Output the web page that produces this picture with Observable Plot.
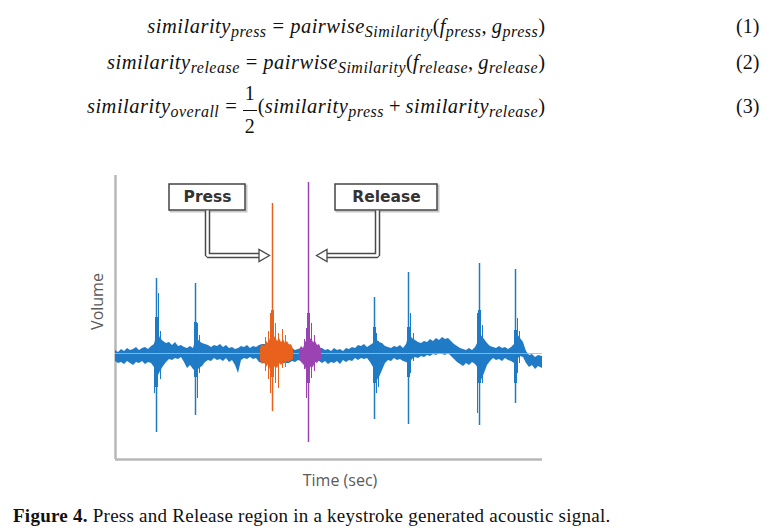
<!DOCTYPE html>
<html>
<head>
<meta charset="utf-8">
<script src="https://cdn.jsdelivr.net/npm/d3@7"></script>
<script src="https://cdn.jsdelivr.net/npm/@observablehq/plot@0.6"></script>
<style>
  html, body { margin: 0; padding: 0; background: #fff; }
  #page { position: relative; width: 779px; height: 528px; overflow: hidden; background: #fff; }
  .eq { position: absolute; left: 0; width: 779px; height: 30px; line-height: 30px;
        font-family: "Liberation Serif", "Times New Roman", serif; font-size: 20.5px; color: #111; white-space: nowrap; }
  .eq i { font-style: italic; letter-spacing: 0.5px; }
  .eq sub { font-size: 0.78em; vertical-align: -0.28em; line-height: 0; }
  .body { position: absolute; right: 234px; }
  .eqs { margin: 0 6px; }
  .plus { margin: 0 5px; }
  .num { position: absolute; left: 736px; font-size: 20px; }
  .frac { display: inline-flex; flex-direction: column; align-items: center; vertical-align: middle;
          font-size: 20px; margin: -22px 1px -22px 0; position: relative; top: 1px; }
  .frac span { display: block; line-height: 18px; }
  .frac .n { padding-bottom: 8px; }
  .frac .bar { border-top: 1.2px solid #111; padding: 6px 2px 0 2px; }
  #chart { position: absolute; left: 0; top: 150px; }
  #caption { position: absolute; left: 13px; top: 505px; font-family: "Liberation Serif", "Times New Roman", serif;
             font-size: 19px; letter-spacing: 0.25px; color: #111; white-space: nowrap; }
</style>
</head>
<body>
<div id="page">
  <div class="eq" style="top:11px">
    <span class="body"><i>similarity</i><sub><i>press</i></sub><span class="eqs">=</span><i>pairwise</i><sub><i>Similarity</i></sub>(<i>f</i><sub><i>press</i></sub>, <i>g</i><sub><i>press</i></sub>)</span>
    <span class="num">(1)</span>
  </div>
  <div class="eq" style="top:47px">
    <span class="body"><i>similarity</i><sub><i>release</i></sub><span class="eqs">=</span><i>pairwise</i><sub><i>Similarity</i></sub>(<i>f</i><sub><i>release</i></sub>, <i>g</i><sub><i>release</i></sub>)</span>
    <span class="num">(2)</span>
  </div>
  <div class="eq" style="top:91px">
    <span class="body"><i>similarity</i><sub><i>overall</i></sub><span class="eqs">=</span><span class="frac"><span class="n">1</span><span class="bar">2</span></span>(<i>similarity</i><sub><i>press</i></sub><span class="plus">+</span><i>similarity</i><sub><i>release</i></sub>)</span>
    <span class="num">(3)</span>
  </div>
  <div id="chart"></div>
  <div id="caption"><b>Figure 4.</b> Press and Release region in a keystroke generated acoustic signal.</div>
</div>
<script>
// ---------- data (time and volume in arbitrary units; 0 = silence) ----------
const timeDomain = [0, 427];
const volumeDomain = [-106, 178];

// background noise envelope over the whole recording
const noiseTime = [0, 3, 6, 9, 12, 15, 18, 21, 24, 27, 30, 33, 36, 39, 42, 45, 48, 51, 54, 57, 60, 63, 66, 69, 72, 75, 78,
  81, 84, 87, 90, 93, 96, 99, 102, 105, 108, 111, 114, 117, 120, 123, 126, 129, 132, 135, 138, 141, 144, 147, 150, 153,
  156, 159, 162, 165, 168, 171, 174, 177, 180, 183, 186, 189, 192, 195, 198, 201, 204, 207, 210, 213, 216, 219, 222, 225,
  228, 231, 234, 237, 240, 243, 246, 249, 252, 255, 258, 261, 264, 267, 270, 273, 276, 279, 282, 285, 288, 291, 294, 297,
  300, 303, 306, 309, 312, 315, 318, 321, 324, 327, 330, 333, 336, 339, 342, 345, 348, 351, 354, 357, 360, 363, 366, 369,
  372, 375, 378, 381, 384, 387, 390, 393, 396, 399, 402, 405, 408, 411, 414, 417, 420, 423, 427];
const noiseHigh = [3, 1, 4, 2, 5, 3, 4, 6, 3, 5, 6, 4, 7, 9, 22, 15, 12, 10, 11, 8, 11, 7, 8, 6, 5, 7, 5,
  17, 12, 10, 9, 8, 6, 8, 7, 9, 6, 8, 5, 6, 4, 5, 7, 6, 8, 5, 7, 6, 8, 9, 9, 10,
  10, 10, 10, 10, 10, 10, 9, 5, 3, 4, 5, 5, 5, 5, 5, 5, 5, 5, 3, 4, 2, 5, 3, 4,
  2, 5, 4, 6, 5, 8, 7, 9, 6, 8, 10, 14, 11, 10, 7, 6, 5, 7, 6, 8, 5, 9, 20, 15,
  13, 11, 10, 12, 11, 14, 12, 15, 13, 16, 14, 15, 12, 9, 7, 5, 4, 3, 5, 3, 6, 12, 18, 14,
  10, 7, 6, 5, 7, 5, 6, 4, 6, 9, 19, 15, 11, 2, -2, -1, -4, -2, -3];
const noiseLow = [-8, -10, -9, -11, -8, -10, -12, -9, -10, -8, -11, -9, -10, -14, -24, -18, -13, -9, -6, -7, -5, -6, -4, -9, -15, -12, -16,
  -19, -15, -13, -9, -7, -8, -5, -7, -6, -8, -5, -9, -7, -12, -20, -7, -5, -6, -4, -6, -5, -9, -10, -10, -10,
  -10, -10, -10, -10, -10, -10, -10, -8, -9, -7, -8, -8, -8, -8, -8, -8, -8, -10, -8, -11, -9, -10, -8, -11,
  -7, -9, -7, -8, -5, -7, -5, -6, -5, -9, -14, -28, -24, -17, -10, -7, -8, -5, -7, -6, -8, -9, -10, -6,
  -4, -5, -3, -4, -2, -3, -1, -2, 0, -1, -2, 0, -3, -6, -9, -11, -13, -10, -12, -9, -11, -15, -27, -20,
  -12, -8, -5, -7, -6, -8, -5, -7, -8, -10, -6, -3, -4, -10, -14, -12, -16, -13, -15];

// key press region envelope
const pressTime = [145, 147, 149, 151, 153, 155, 156, 157, 158, 160, 162, 164, 166, 168, 170, 172, 174, 176, 178];
const pressHigh = [5, 9, 7, 12, 10, 15, 12, 19, 14, 17, 12, 15, 11, 14, 10, 12, 8, 9, 4];
const pressLow = [-7, -11, -9, -14, -11, -17, -14, -22, -16, -13, -15, -10, -12, -9, -10, -8, -9, -7, -6];

// key release region envelope
const releaseTime = [184, 186, 188, 190, 192, 193, 194, 196, 198, 200, 202, 204, 206];
const releaseHigh = [3, 7, 5, 11, 14, 18, 13, 15, 11, 12, 8, 9, 4];
const releaseLow = [-6, -9, -11, -14, -20, -22, -17, -13, -14, -9, -10, -7, -6];

// keystroke spikes
const spikeTime = [41, 80, 157, 193, 259, 293, 364, 400];
const spikeRegion = ["other", "other", "press", "release", "other", "other", "other", "other"];
const spikeTop = [75, 70, 150, 171, 56, 81, 90, 84];
const spikeBottom = [-79, -62, -58, -89, -66, -71, -72, -50];
const burstTop = [36, 31, 43, 40, 26, 26, 43, 23];
const burstBottom = [-34, -24, -24, -30, -30, -24, -30, -30];

// secondary oscillations next to each spike
const echoTime = [43, 39, 45, 82, 84, 150, 153, 155, 160, 163, 167, 170, 189, 191, 196, 199, 261, 263, 295, 298, 362, 367, 402, 404];
const echoRegion = ["other", "other", "other", "other", "other", "press", "press", "press", "press", "press", "press", "press",
  "release", "release", "release", "release", "other", "other", "other", "other", "other", "other", "other", "other"];
const echoTop = [60, 10, 22, 30, 18, 16, 22, 40, 30, 20, 24, 18, 14, 25, 30, 18, 20, 12, 40, 20, 40, 28, 35, 22];
const echoBottom = [-20, -40, -26, -45, -20, -18, -26, -40, -30, -35, -15, -14, -16, -45, -25, -18, -40, -34, -20, -8, -60, -30, -20, -10];

const annotationLabels = ["Press", "Release"];
const axisTitles = {x: "Time (sec)", y: "Volume"};

// ---------- build tables ----------
const env = (t, hi, lo) => t.map((d, i) => ({t: d, hi: hi[i], lo: lo[i]}));
const noise = env(noiseTime, noiseHigh, noiseLow);
const press = env(pressTime, pressHigh, pressLow);
const release = env(releaseTime, releaseHigh, releaseLow);
const spikes = spikeTime.map((t, i) => ({t, region: spikeRegion[i], top: spikeTop[i], bottom: spikeBottom[i], btop: burstTop[i], bbottom: burstBottom[i]}));
const echoes = echoTime.map((t, i) => ({t, region: echoRegion[i], top: echoTop[i], bottom: echoBottom[i]}));

const colors = {other: "#1f7bc6", press: "#e8621e", release: "#9b43b3"};
const spikeColor = d => colors[d.region];

const boxes = [
  {label: annotationLabels[0], x1: 54, x2: 130, y1: 143, y2: 169},
  {label: annotationLabels[1], x1: 220, x2: 322, y1: 143, y2: 169}
];
const arrows = [
  {id: "press", pts: [{t: 92, v: 143}, {t: 92, v: 98}, {t: 146, v: 98}], tip: {t: 147, v: 98, r: 90}},
  {id: "release", pts: [{t: 262, v: 143}, {t: 262, v: 98}, {t: 209, v: 98}], tip: {t: 208, v: 98, r: -90}}
];
const arrowPts = arrows.flatMap(a => a.pts.map(p => ({...p, id: a.id})));
const tips = arrows.map(a => a.tip);

function regionMarks(region, envData) {
  return [
    Plot.areaY(envData, {x: "t", y1: "lo", y2: "hi", fill: colors[region]}),
    Plot.ruleX(spikes.filter(d => d.region === region), {x: "t", y1: "bbottom", y2: "btop", stroke: spikeColor, strokeWidth: 3}),
    Plot.ruleX(echoes.filter(d => d.region === region), {x: "t", y1: "bottom", y2: "top", stroke: spikeColor, strokeWidth: 1}),
    Plot.ruleX(spikes.filter(d => d.region === region), {x: "t", y1: "bottom", y2: "top", stroke: spikeColor, strokeWidth: 1.5})
  ];
}

const plot = Plot.plot({
  width: 779,
  height: 345,
  marginLeft: 115,
  marginRight: 237,
  marginTop: 25,
  marginBottom: 36,
  x: {domain: timeDomain, axis: null},
  y: {domain: volumeDomain, axis: null},
  style: {background: "transparent", overflow: "visible"},
  marks: [
    // axes lines
    Plot.ruleX([timeDomain[0]], {stroke: "#b8b8b8", strokeWidth: 2.5}),
    Plot.ruleY([volumeDomain[0]], {stroke: "#b8b8b8", strokeWidth: 2.5}),
    ...regionMarks("other", noise),
    // faint reference line
    Plot.ruleY([0], {stroke: "#f0a878", strokeWidth: 1, strokeOpacity: 0.85}),
    ...regionMarks("press", press),
    ...regionMarks("release", release),
    // annotation boxes
    Plot.rect(boxes, {x1: "x1", x2: "x2", y1: "y1", y2: "y2", fill: "#fff", stroke: "#c8c8c8", strokeWidth: 2, dx: 1.5, dy: 1.5}),
    Plot.rect(boxes, {x1: "x1", x2: "x2", y1: "y1", y2: "y2", fill: "#fff", stroke: "#444", strokeWidth: 1.5}),
    Plot.text(boxes, {x: d => (d.x1 + d.x2) / 2, y: d => (d.y1 + d.y2) / 2, text: "label", fontSize: 15.5, fontWeight: "bold",
      fontFamily: "DejaVu Sans, sans-serif", fill: "#333"}),
    // hollow arrows
    Plot.line(arrowPts, {x: "t", y: "v", z: "id", stroke: "#4a4a4a", strokeWidth: 5.5, strokeLinejoin: "miter", strokeLinecap: "butt"}),
    Plot.line(arrowPts, {x: "t", y: "v", z: "id", stroke: "#fff", strokeWidth: 2.5, strokeLinejoin: "miter", strokeLinecap: "butt"}),
    Plot.dot(tips, {x: "t", y: "v", symbol: "triangle", rotate: "r", r: 4.5, fill: "#fff", stroke: "#4a4a4a", strokeWidth: 1.3}),
    // axis titles
    Plot.text([axisTitles.y], {x: () => timeDomain[0], y: () => 52, rotate: -90, dx: -18, fontSize: 16,
      fontFamily: "Open Sans, sans-serif", fill: "#5a5a5a"}),
    Plot.text([axisTitles.x], {frameAnchor: "bottom", lineAnchor: "middle", dx: 11, dy: 21, fontSize: 16,
      fontFamily: "Open Sans, sans-serif", fill: "#5a5a5a"})
  ]
});
document.getElementById("chart").appendChild(plot);
</script>
</body>
</html>
